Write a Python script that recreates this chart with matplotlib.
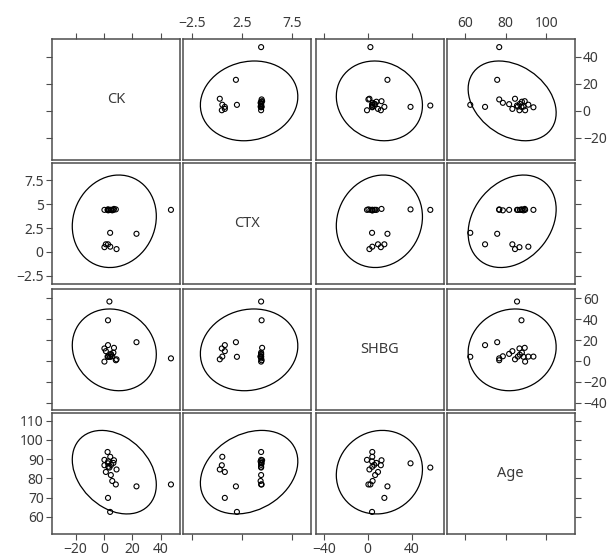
import numpy as np
import matplotlib
matplotlib.use("Agg")
import matplotlib.pyplot as plt
from matplotlib.patches import Ellipse
from matplotlib.ticker import FuncFormatter

plt.rcParams["font.family"] = ["Noto Sans", "DejaVu Sans"]

# ---- data ----
variables = ["CK", "CTX", "SHBG", "Age"]
ck   = [4.3, 2.8, 22.8, 47.0, 8.3, 5.8, 4.8, 1.3, 8.8, 3.8, 3.0, 0.3, 2.8, 6.6, 3.0, 0.3, 4.4, 2.5, 7.0, 5.0]
ctx  = [2.0, 0.8, 1.9, 4.4, 4.45, 4.35, 4.4, 0.8, 0.3, 4.4, 4.4, 0.5, 4.45, 4.4, 4.35, 4.4, 0.55, 4.4, 4.5, 4.4]
shbg = [4.0, 15.2, 18.0, 2.5, 0.7, 4.5, 6.8, 9.4, 1.6, 57.0, 4.2, 12.0, 39.0, 8.0, 4.0, -0.6, 4.2, 4.2, 12.6, 6.0]
age  = [62.5, 69.8, 75.8, 76.8, 76.8, 78.6, 81.7, 83.3, 84.6, 85.6, 86.0, 86.8, 87.8, 88.0, 88.8, 89.6, 91.2, 93.7, 89.4, 87.0]

data = {"CK": np.array(ck), "CTX": np.array(ctx), "SHBG": np.array(shbg), "Age": np.array(age)}

limits = {"CK": (-36.5, 53.0), "CTX": (-3.35, 9.3), "SHBG": (-47.0, 69.0), "Age": (51.0, 114.0)}
xticks = {"CK": [-20, 0, 20, 40], "CTX": [-2.5, 2.5, 7.5], "SHBG": [-40, 0, 40], "Age": [60, 80, 100]}
yticks = {"CK": [-20, 0, 20, 40], "CTX": [-2.5, 0, 2.5, 5.0, 7.5],
          "SHBG": [-40, -20, 0, 20, 40, 60], "Age": [60, 70, 80, 90, 100, 110]}

alpha = 0.05

def fmt(v, pos=None):
    if abs(v) < 1e-9:
        return "0"
    if abs(v - round(v)) < 1e-9:
        s = f"{int(round(v))}"
    else:
        s = f"{v:.1f}"
    return s.replace("-", "\u2212")

def pred_ellipse(x, y, ax):
    n = len(x)
    d2 = n - 2
    fq = (d2 / 2.0) * ((alpha) ** (-2.0 / d2) - 1.0)  # F(2, n-2) quantile
    c2 = 2.0 * (n - 1) * (n + 1) / (n * (n - 2)) * fq
    cov = np.cov(x, y)
    vals, vecs = np.linalg.eigh(cov)
    order = vals.argsort()[::-1]
    vals, vecs = vals[order], vecs[:, order]
    ang = np.degrees(np.arctan2(vecs[1, 0], vecs[0, 0]))
    w, h = 2 * np.sqrt(c2 * vals)
    e = Ellipse((x.mean(), y.mean()), w, h, angle=ang, fill=False,
                edgecolor="black", linewidth=0.9, zorder=2)
    ax.add_patch(e)

W, H = 612, 558
fig = plt.figure(figsize=(W / 100, H / 100), dpi=100)
fig.patch.set_facecolor("white")

col_x = [52, 183, 316, 447]
col_w = 127.5
row_y = [39, 163, 289, 413]
row_h = 121

frame_col = "#4d4d4d"
text_col = "#3a3a3a"
nv = len(variables)

for i, yv in enumerate(variables):
    for j, xv in enumerate(variables):
        ax = fig.add_axes([col_x[j] / W, 1 - (row_y[i] + row_h) / H, col_w / W, row_h / H])
        ax.set_xlim(limits[xv])
        ax.set_ylim(limits[yv])
        for s in ax.spines.values():
            s.set_color(frame_col)
            s.set_linewidth(1.1)
        ax.set_xticks(xticks[xv])
        ax.set_yticks(yticks[yv])
        ax.xaxis.set_major_formatter(FuncFormatter(fmt))
        ax.yaxis.set_major_formatter(FuncFormatter(fmt))
        ax.tick_params(axis="both", direction="out", length=4, width=0.8,
                       color=frame_col, labelcolor=text_col, labelsize=10, pad=2,
                       top=(i == 0), bottom=(i == nv - 1),
                       left=(j == 0), right=(j == nv - 1),
                       labeltop=(i == 0 and j in (1, 3)),
                       labelbottom=(i == nv - 1 and j in (0, 2)),
                       labelleft=(j == 0 and i in (1, 3)),
                       labelright=(j == nv - 1 and i in (0, 2)))
        if i == j:
            ax.text(0.5, 0.5, xv, transform=ax.transAxes, ha="center", va="center",
                    fontsize=10.5, color=text_col)
            continue
        x = data[xv]
        y = data[yv]
        pred_ellipse(x, y, ax)
        ax.scatter(x, y, s=13, facecolors="none", edgecolors="black",
                   linewidths=0.8, zorder=3, clip_on=False)

fig.savefig("out.png", dpi=100, facecolor="white")
